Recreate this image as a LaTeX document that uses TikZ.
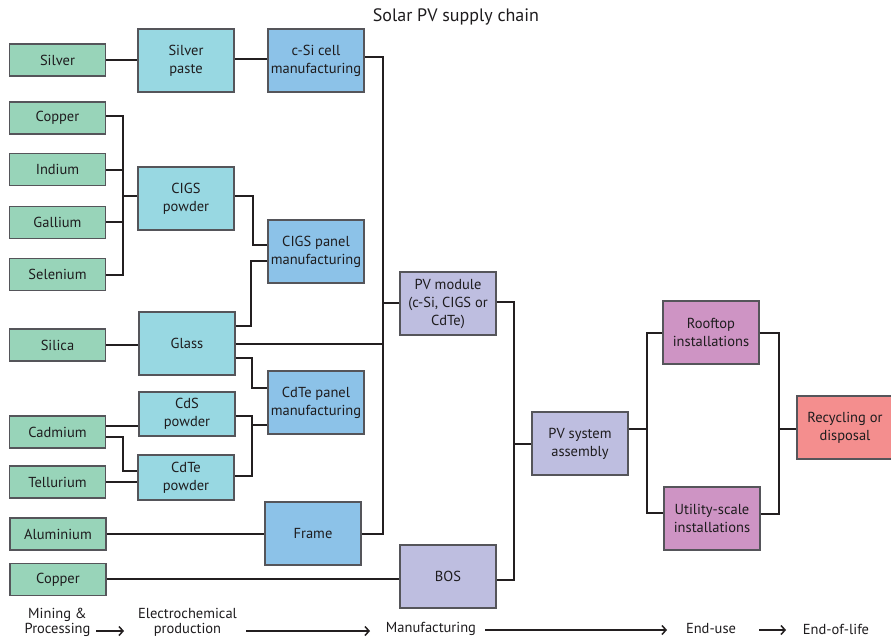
\documentclass[tikz,border=0pt]{standalone}
\usepackage{fontspec}
\setmainfont{PT Sans}
\usetikzlibrary{arrows.meta,calc}
\definecolor{cgreen}{RGB}{152,212,185}
\definecolor{ccyan}{RGB}{152,216,226}
\definecolor{cblue}{RGB}{140,194,232}
\definecolor{clav}{RGB}{190,190,224}
\definecolor{cpink}{RGB}{206,148,196}
\definecolor{csalmon}{RGB}{244,142,142}
\definecolor{cline}{RGB}{35,31,32}
\definecolor{cborder}{RGB}{85,85,90}
\definecolor{ctext}{RGB}{30,28,30}
\begin{document}
\begin{tikzpicture}[x=1pt,y=-1pt,
  box/.style={draw=cborder,line width=1.3pt,minimum width=96pt,inner sep=0pt,align=center,
    font=\fontsize{14.5}{18}\selectfont,text=ctext},
  raw/.style={box,fill=cgreen,minimum height=32pt},
  mid/.style={box,fill=ccyan,minimum height=63pt},
  man/.style={box,fill=cblue,minimum height=63pt},
  mod/.style={box,fill=clav,minimum height=63pt},
  use/.style={box,fill=cpink,minimum height=63pt},
  eol/.style={box,fill=csalmon,minimum height=63pt},
  conn/.style={draw=cline,line width=2pt},
  flow/.style={draw=cline,line width=1.5pt,-{Straight Barb[length=4pt,width=9pt]}},
  lbl/.style={align=center,font=\fontsize{14.5}{15.5}\selectfont,text=ctext,inner sep=0pt}
]
\useasboundingbox (0,0) rectangle (891,640);
\fill[white] (0,0) rectangle (891,640);

\node[font=\fontsize{18}{20}\selectfont,text=ctext] (title) at (456,17) {Solar PV supply chain};

% raw materials
\node[raw] (silver) at (57.5,60) {Silver};
\node[raw] (cu1) at (57.5,118) {Copper};
\node[raw] (in) at (57.5,169.5) {Indium};
\node[raw] (ga) at (57.5,222.5) {Gallium};
\node[raw] (se) at (57.5,274.5) {Selenium};
\node[raw] (silica) at (57.5,345) {Silica};
\node[raw] (cd) at (57.5,432) {Cadmium};
\node[raw] (te) at (57.5,482) {Tellurium};
\node[raw] (al) at (58,534) {Aluminium};
\node[raw] (cu2) at (58,579.5) {Copper};

% electrochemical
\node[mid] (spaste) at (186,60.5) {Silver\\paste};
\node[mid] (cigsp) at (186,198.5) {CIGS\\powder};
\node[mid] (glass) at (187,343.5) {Glass};
\node[mid,minimum height=44pt] (cds) at (187,414) {CdS\\powder};
\node[mid,minimum height=45pt] (cdtep) at (186,477.5) {CdTe\\powder};

% manufacturing
\node[man] (csi) at (316,60.5) {c-Si cell\\manufacturing};
\node[man] (cigsm) at (316,251.5) {CIGS panel\\manufacturing};
\node[man] (cdtem) at (316,402.5) {CdTe panel\\manufacturing};
\node[man] (frame) at (313,533.5) {Frame};
\node[mod] (pvm) at (448,303.5) {PV module\\(c-Si, CIGS or\\CdTe)};
\node[mod] (bos) at (448,576.5) {BOS};
\node[mod] (pvs) at (580,443.5) {PV system\\assembly};

% end use
\node[use] (roof) at (711,332.5) {Rooftop\\installations};
\node[use] (util) at (712,518.5) {Utility-scale\\installations};
\node[eol] (rec) at (845,427.5) {Recycling or\\disposal};

% connectors
\draw[conn] (silver.east) -- (spaste.west |- silver.east);
\draw[conn] (spaste.east |- 0,59) -- (csi.west |- 0,59);
\draw[conn] (csi.east |- 0,57) -| (383,534) -- (frame.east |- 0,534);
\draw[conn] (383,303) -- (pvm.west |- 0,303);
\draw[conn] (glass.east |- 0,343.7) -- (383,343.7);

\draw[conn] (cu1.east |- 0,116) -| (123,275) -- (se.east |- 0,275);
\draw[conn] (in.east |- 0,170) -- (123,170);
\draw[conn] (ga.east |- 0,222) -- (123,222);
\draw[conn] (123,196) -- (cigsp.west |- 0,196);
\draw[conn] (cigsp.east |- 0,196) -| (253,245) -- (cigsm.west |- 0,245);
\draw[conn] (cigsm.west |- 0,261) -| (251,325.7) -- (glass.east |- 0,325.7);
\draw[conn] (silica.east) -- (glass.west |- silica.east);
\draw[conn] (glass.east |- 0,358) -| (252,388) -- (cdtem.west |- 0,388);
\draw[conn] (cd.east |- 0,426) -- (cds.west |- 0,426);
\draw[conn] (cd.east |- 0,437) -| (123,471) -- (cdtep.west |- 0,471);
\draw[conn] (te.east |- 0,482) -- (cdtep.west |- 0,482);
\draw[conn] (cds.east |- 0,416) -| (252,476) -- (cdtep.east |- 0,476);
\draw[conn] (252,425) -- (cdtem.west |- 0,425);
\draw[conn] (al.east) -- (frame.west |- al.east);
\draw[conn] (cu2.east |- 0,578.7) -- (bos.west |- 0,578.7);

\draw[conn] (pvm.east |- 0,302) -| (514,580) -- (bos.east |- 0,580);
\draw[conn] (514,444) -- (pvs.west |- 0,444);
\draw[conn] (pvs.east |- 0,429) -- (647,429);
\draw[conn] (roof.west |- 0,333) -| (647,513) -- (util.west |- 0,513);
\draw[conn] (roof.east |- 0,333) -| (779,514) -- (util.east |- 0,514);
\draw[conn] (779,429) -- (rec.west |- 0,429);

% stages
\node[lbl] (s1) at (57.5,622.5) {Mining \&\\Processing};
\node[lbl] (s2) at (187.5,622.5) {Electrochemical\\production};
\node[lbl] (s3) at (431,629) {Manufacturing};
\node[lbl] (s4) at (711,629) {End-use};
\node[lbl] (s5) at (836,629) {End-of-life};
\coordinate (a1s) at (96,631); \coordinate (a1e) at (124,631);
\coordinate (a2s) at (246,631); \coordinate (a2e) at (370,631);
\coordinate (a3s) at (485,630); \coordinate (a3e) at (667,630);
\coordinate (a4s) at (759,630); \coordinate (a4e) at (786,630);
\draw[flow] (a1s) -- (a1e);
\draw[flow] (a2s) -- (a2e);
\draw[flow] (a3s) -- (a3e);
\draw[flow] (a4s) -- (a4e);
\end{tikzpicture}
\end{document}
